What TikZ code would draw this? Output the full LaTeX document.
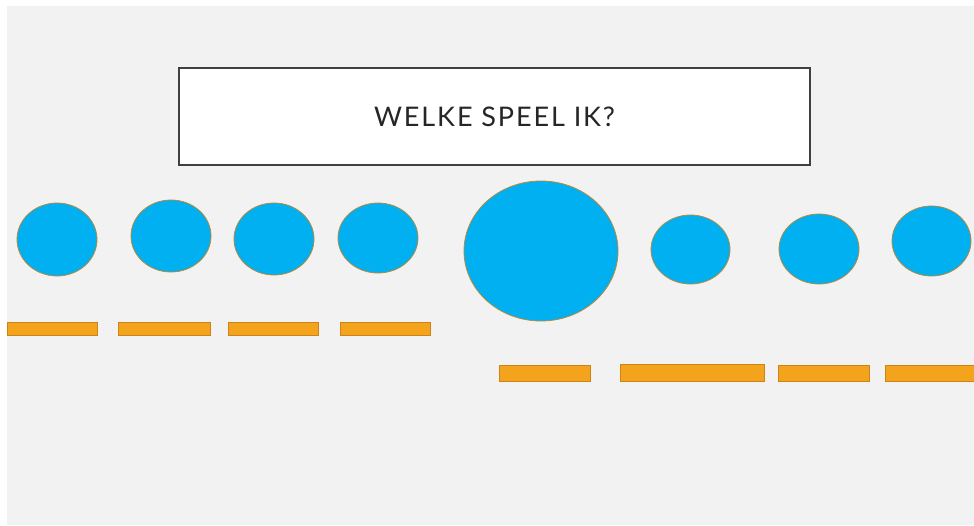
\documentclass[tikz,border=0pt]{standalone}
\usepackage{fontspec}
\setmainfont{Lato}
\newfontfamily\titlefont[LetterSpace=7]{Lato}
\usetikzlibrary{shapes.geometric}
\definecolor{slidebg}{HTML}{F2F2F2}
\definecolor{seatblue}{HTML}{00B0F0}
\definecolor{seatline}{HTML}{B8893A}
\definecolor{barfill}{HTML}{F4A31D}
\definecolor{barline}{HTML}{CC8418}
\definecolor{titleline}{HTML}{404040}
\begin{document}
\begin{tikzpicture}[
  x=1pt, y=-1pt,
  titlebox/.style={
    draw=titleline, line width=2pt, fill=white,
    minimum width=631pt, minimum height=97pt,
    inner sep=0pt,
    font=\titlefont\fontsize{27}{30}\selectfont, text=black!85
  },
  seat/.style={
    ellipse, draw=seatline, line width=0.8pt, fill=seatblue,
    inner sep=0pt
  },
  bar/.style={
    draw=barline, line width=0.8pt, fill=barfill,
    inner sep=0pt
  }
]
\useasboundingbox (0,0) rectangle (974,525);
\fill[slidebg] (7,6) rectangle (974,525);

% --- Title ---
\node[titlebox] (title) at (494.5,116.5) {WELKE SPEEL IK?};

% --- Seats ---
\foreach \cx/\cy/\w/\h [count=\i] in
  {57/239.5/80/73, 171/236/80/72, 274/239/80/72, 378/238/80/70,
   541/251/154/140, 690.5/249.5/79/69, 819/249/80/70, 931.5/241/79/70}
{
  \node[seat, minimum width=\w pt, minimum height=\h pt] (seat\i) at (\cx,\cy) {};
}

% --- Bars ---
\begin{scope}
\clip (7,6) rectangle (974,525);
\foreach \cx/\cy/\w/\h [count=\i] in
  {52/328.5/90/13, 164/328.5/92/13, 273/328.5/90/13, 385/328.5/90/13,
   545/373/91/16, 692/373/144/17, 824/373/91/16, 930/373/90/16}
{
  \node[bar, minimum width=\w pt, minimum height=\h pt] (bar\i) at (\cx,\cy) {};
}
\end{scope}
\end{tikzpicture}
\end{document}
